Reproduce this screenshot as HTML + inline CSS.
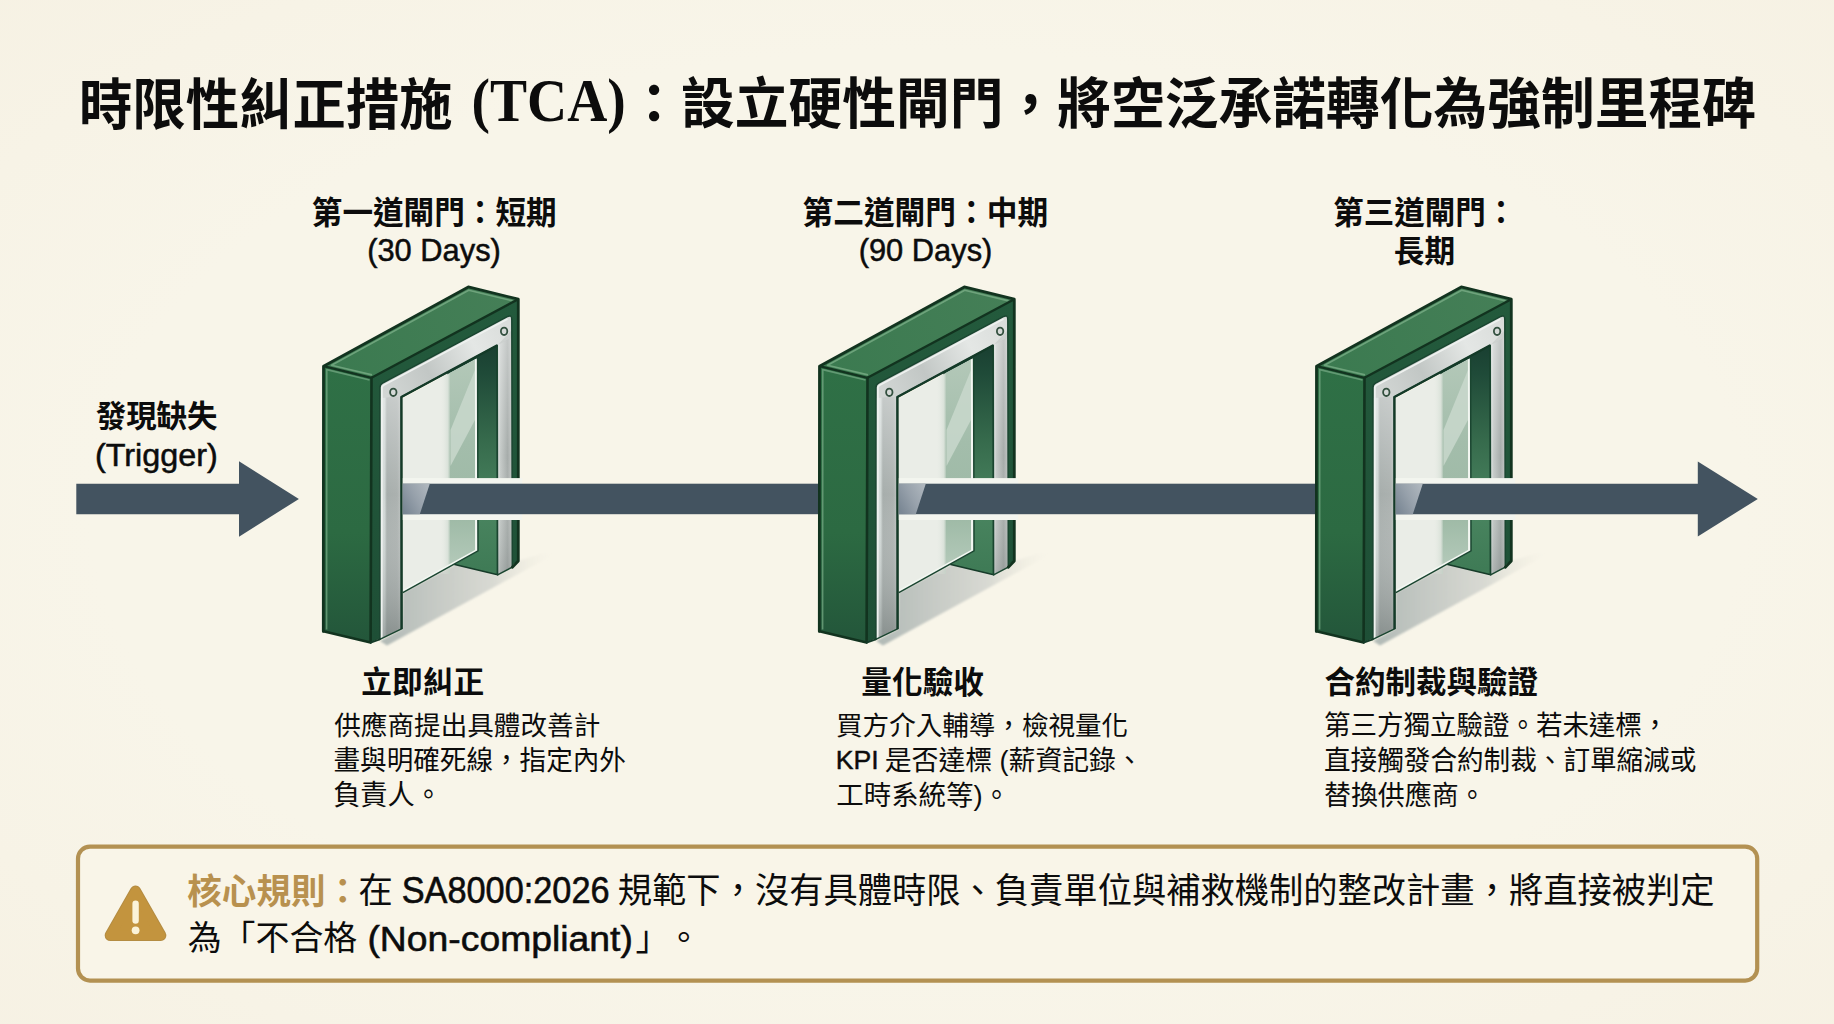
<!DOCTYPE html>
<html lang="zh-Hant"><head><meta charset="utf-8"><title>時限性糾正措施 (TCA)</title>
<style>
html,body{margin:0;padding:0;background:#F8F4E7;}
body{width:1834px;height:1024px;overflow:hidden;position:relative;font-family:"Liberation Sans","Noto Sans CJK TC",sans-serif;}
svg{position:absolute;left:0;top:0;display:block}
text{white-space:pre;text-spacing-trim:space-all}
</style></head><body>
<svg width="1834" height="1024" viewBox="0 0 1834 1024">
<defs>
<filter id="blur1" x="-10%" y="-10%" width="120%" height="120%"><feGaussianBlur stdDeviation="1.3"/></filter>
<linearGradient id="gshadow" gradientUnits="userSpaceOnUse" x1="386" y1="0" x2="552" y2="0"><stop offset="0" stop-color="#B3BBB7"/><stop offset="0.3" stop-color="#C6CAC5"/><stop offset="0.65" stop-color="#D9DAD3"/><stop offset="1" stop-color="#F0EDE0" stop-opacity="0"/></linearGradient>
<filter id="blur3" x="-20%" y="-20%" width="140%" height="140%"><feGaussianBlur stdDeviation="3.2"/></filter>
<radialGradient id="gbg" cx="50%" cy="50%" r="75%"><stop offset="0.6" stop-color="#F8F5E9"/><stop offset="1" stop-color="#F6F1E3"/></radialGradient>
<linearGradient id="gfront" gradientUnits="userSpaceOnUse" x1="0" y1="366" x2="0" y2="643"><stop offset="0" stop-color="#2F7046"/><stop offset="0.6" stop-color="#2C6A42"/><stop offset="1" stop-color="#23563A"/></linearGradient>
<linearGradient id="gtop" gradientUnits="userSpaceOnUse" x1="330" y1="365" x2="515" y2="298"><stop offset="0" stop-color="#3B7A50"/><stop offset="1" stop-color="#457F57"/></linearGradient>
<linearGradient id="gside" gradientUnits="userSpaceOnUse" x1="0" y1="300" x2="0" y2="643"><stop offset="0" stop-color="#235A3C"/><stop offset="1" stop-color="#1E4F36"/></linearGradient>
<linearGradient id="ginner" gradientUnits="userSpaceOnUse" x1="0" y1="345" x2="0" y2="575"><stop offset="0" stop-color="#193F31"/><stop offset="0.12" stop-color="#1F4A38"/><stop offset="0.4" stop-color="#35694B"/><stop offset="0.7" stop-color="#4A8560"/><stop offset="1" stop-color="#3E7A55"/></linearGradient>
<linearGradient id="gglass" gradientUnits="userSpaceOnUse" x1="0" y1="360" x2="0" y2="567"><stop offset="0" stop-color="#B3C8B8"/><stop offset="0.4" stop-color="#A3BDAB"/><stop offset="0.75" stop-color="#9DB9A5"/><stop offset="1" stop-color="#B4CABA"/></linearGradient>
<linearGradient id="gsoft" gradientUnits="userSpaceOnUse" x1="440" y1="0" x2="450" y2="0"><stop offset="0" stop-color="#EAEDE7" stop-opacity="0"/><stop offset="1" stop-color="#C4D3C7" stop-opacity="0.7"/></linearGradient>
<linearGradient id="gstop" gradientUnits="userSpaceOnUse" x1="380" y1="392" x2="512" y2="322"><stop offset="0" stop-color="#D4D8D6"/><stop offset="0.35" stop-color="#C2C7C5"/><stop offset="0.7" stop-color="#E4E7E5"/><stop offset="1" stop-color="#D9DCDA"/></linearGradient>
<linearGradient id="gsleft" gradientUnits="userSpaceOnUse" x1="380" y1="0" x2="401.5" y2="0"><stop offset="0" stop-color="#DDE2E0"/><stop offset="0.22" stop-color="#CFD6D4"/><stop offset="0.32" stop-color="#A7AEAC"/><stop offset="0.8" stop-color="#ABB1AF"/><stop offset="1" stop-color="#BEC3C1"/></linearGradient>
<linearGradient id="gsleftv" gradientUnits="userSpaceOnUse" x1="0" y1="398" x2="0" y2="639"><stop offset="0" stop-color="#FFFFFF" stop-opacity="0.35"/><stop offset="0.4" stop-color="#FFFFFF" stop-opacity="0"/><stop offset="1" stop-color="#5F6866" stop-opacity="0.45"/></linearGradient>
<linearGradient id="gsright" gradientUnits="userSpaceOnUse" x1="497.5" y1="0" x2="512" y2="0"><stop offset="0" stop-color="#E9ECEA"/><stop offset="0.2" stop-color="#C5CAC8"/><stop offset="0.7" stop-color="#A6ACAA"/><stop offset="1" stop-color="#C2C6C4"/></linearGradient>
<linearGradient id="gsrightv" gradientUnits="userSpaceOnUse" x1="0" y1="338" x2="0" y2="575"><stop offset="0" stop-color="#FFFFFF" stop-opacity="0.35"/><stop offset="0.5" stop-color="#FFFFFF" stop-opacity="0"/><stop offset="1" stop-color="#6F7775" stop-opacity="0.3"/></linearGradient>
<linearGradient id="gfade" gradientUnits="objectBoundingBox" x1="0" y1="0.8" x2="1" y2="0.2"><stop offset="0" stop-color="#7A8794"/><stop offset="0.5" stop-color="#97A1AB"/><stop offset="1" stop-color="#AEB6BD"/></linearGradient>
</defs>
<rect x="0" y="0" width="1834" height="1024" fill="url(#gbg)"/>

<polygon points="76.3,483.7 239.0,483.7 239.0,461.2 298.9,498.9 239.0,536.8 239.0,514.2 76.3,514.2" fill="#435360"/>
<g transform="translate(0,0)">
<polygon points="402.8,592.6 458.0,563.0 497.6,575.0 512.3,567.2 518.3,561.0 549.0,551.5 550.5,556.5 387.0,645.5 380.0,641.0 402.0,629.0" fill="url(#gshadow)" filter="url(#blur1)"/>
<polygon points="448.5,563.0 497.6,574.8 497.3,345.3 448.0,333.0" fill="url(#ginner)" stroke="#163B29" stroke-width="1.6" stroke-linejoin="round"/>
<polygon points="402.8,398.6 477.6,358.0 478.0,550.8 402.8,592.6" fill="#EAEDE7"/>
<polygon points="448.7,373.6 475.0,359.4 475.2,552.3 448.7,567.0" fill="url(#gglass)"/>
<polygon points="475.0,370.0 475.0,420.0 450.5,466.0 450.5,430.0" fill="#C9D8CD" opacity="0.85"/>
<rect x="440" y="374" width="10" height="200" fill="url(#gsoft)"/>
<polyline points="476.2,359.2 476.5,550.6 403.6,591.0" fill="none" stroke="#F3F7F2" stroke-width="2.6"/>
<polyline points="477.6,358.0 478.0,550.8 402.8,592.6" fill="none" stroke="#1A4530" stroke-width="1.5" stroke-linejoin="round"/>
<polygon points="371.5,377.8 518.3,299.2 518.3,561.0 497.6,574.8 497.3,345.3 401.4,397.0 401.6,628.9 370.6,642.6" fill="url(#gside)"/>
<clipPath id="cs0"><path d="M379.8,639.4 L380.0,387.6 Q380.0,384.6 382.6,383.2 L507.4,316.7 Q511.8,314.4 511.8,319.4 L512.3,567.2 L497.6,574.8 L497.3,345.3 L401.4,397.0 L401.6,628.9 Z"/></clipPath>
<path d="M379.8,639.4 L380.0,387.6 Q380.0,384.6 382.6,383.2 L507.4,316.7 Q511.8,314.4 511.8,319.4 L512.3,567.2 L497.6,574.8 L497.3,345.3 L401.4,397.0 L401.6,628.9 Z" fill="#CDD1CF"/>
<g clip-path="url(#cs0)">
<polygon points="380.0,384.6 511.8,314.4 511.9,330.0 497.3,345.3 401.4,397.0 380.1,400.0" fill="url(#gstop)"/>
<polygon points="380.0,398.0 401.4,397.0 401.6,628.9 379.8,639.4" fill="url(#gsleft)"/>
<polygon points="380.0,398.0 401.4,397.0 401.6,628.9 379.8,639.4" fill="url(#gsleftv)"/>
<polygon points="497.3,345.3 511.9,337.6 512.3,567.2 497.6,574.8" fill="url(#gsright)"/>
<polygon points="497.3,345.3 511.9,337.6 512.3,567.2 497.6,574.8" fill="url(#gsrightv)"/>
<polyline points="381.7,638.0 381.9,387.0 383.5,385.2 507.5,319.0" fill="none" stroke="#EEF1EF" stroke-width="1.8" stroke-linejoin="round"/>
</g>
<path d="M379.8,639.4 L380.0,387.6 Q380.0,384.6 382.6,383.2 L507.4,316.7 Q511.8,314.4 511.8,319.4 L512.3,567.2 L497.6,574.8 L497.3,345.3 L401.4,397.0 L401.6,628.9 Z" fill="none" stroke="#1A4530" stroke-width="1.5" stroke-linejoin="round"/>
<polyline points="401.6,628.9 401.4,397.0 497.3,345.3" fill="none" stroke="#143A28" stroke-width="2.4" stroke-linejoin="round"/>
<ellipse cx="393.3" cy="392.3" rx="3.2" ry="3.7" fill="#D5D9D7" stroke="#33503F" stroke-width="1.8"/>
<ellipse cx="504.1" cy="331.3" rx="3.2" ry="3.7" fill="#D5D9D7" stroke="#33503F" stroke-width="1.8"/>
<polygon points="323.5,366.2 371.5,377.8 370.6,642.6 323.3,631.3" fill="url(#gfront)"/>
<polyline points="326.6,629.6 326.8,369.6 369.5,380.0" fill="none" stroke="#6FA47E" stroke-width="1.6" opacity="0.8" stroke-linejoin="round"/>
<polygon points="323.5,366.2 468.3,286.9 518.3,299.2 371.5,377.8" fill="url(#gtop)"/>
<polyline points="372.0,374.9 331.5,365.2 468.7,290.2 512.5,300.9" fill="none" stroke="#7DB08A" stroke-width="1.6" opacity="0.75" stroke-linejoin="round"/>
<polygon points="323.5,366.2 468.3,286.9 518.3,299.2 518.3,561.0 512.4,566.0" fill="none" stroke="none"/>
<polyline points="323.3,631.3 323.5,366.2 468.3,286.9 518.3,299.2 518.3,561.0 512.3,567.2" fill="none" stroke="#12331F" stroke-width="2.8" stroke-linejoin="round" stroke-linecap="round"/>
<polyline points="323.5,366.2 371.5,377.8 518.3,299.2" fill="none" stroke="#12331F" stroke-width="2.4" stroke-linejoin="round"/>
<polyline points="371.5,377.8 370.6,642.6 323.3,631.3" fill="none" stroke="#12331F" stroke-width="2.6" stroke-linejoin="round" stroke-linecap="round"/>
<polyline points="370.6,642.6 379.8,639.4" fill="none" stroke="#143A28" stroke-width="1.8" stroke-linecap="round"/>
<rect x="402.8" y="478.09999999999997" width="119.5" height="41.900000000000055" fill="#F3F5EF"/>
</g>
<rect x="402.8" y="483.7" width="418.49999999999994" height="30.500000000000057" fill="#435360"/>
<polygon points="402.8,483.7 429.8,483.7 419.8,514.2 402.8,514.2" fill="url(#gfade)" transform="translate(0,0)"/>
<g transform="translate(496,0)">
<polygon points="402.8,592.6 458.0,563.0 497.6,575.0 512.3,567.2 518.3,561.0 549.0,551.5 550.5,556.5 387.0,645.5 380.0,641.0 402.0,629.0" fill="url(#gshadow)" filter="url(#blur1)"/>
<polygon points="448.5,563.0 497.6,574.8 497.3,345.3 448.0,333.0" fill="url(#ginner)" stroke="#163B29" stroke-width="1.6" stroke-linejoin="round"/>
<polygon points="402.8,398.6 477.6,358.0 478.0,550.8 402.8,592.6" fill="#EAEDE7"/>
<polygon points="448.7,373.6 475.0,359.4 475.2,552.3 448.7,567.0" fill="url(#gglass)"/>
<polygon points="475.0,370.0 475.0,420.0 450.5,466.0 450.5,430.0" fill="#C9D8CD" opacity="0.85"/>
<rect x="440" y="374" width="10" height="200" fill="url(#gsoft)"/>
<polyline points="476.2,359.2 476.5,550.6 403.6,591.0" fill="none" stroke="#F3F7F2" stroke-width="2.6"/>
<polyline points="477.6,358.0 478.0,550.8 402.8,592.6" fill="none" stroke="#1A4530" stroke-width="1.5" stroke-linejoin="round"/>
<polygon points="371.5,377.8 518.3,299.2 518.3,561.0 497.6,574.8 497.3,345.3 401.4,397.0 401.6,628.9 370.6,642.6" fill="url(#gside)"/>
<clipPath id="cs1"><path d="M379.8,639.4 L380.0,387.6 Q380.0,384.6 382.6,383.2 L507.4,316.7 Q511.8,314.4 511.8,319.4 L512.3,567.2 L497.6,574.8 L497.3,345.3 L401.4,397.0 L401.6,628.9 Z"/></clipPath>
<path d="M379.8,639.4 L380.0,387.6 Q380.0,384.6 382.6,383.2 L507.4,316.7 Q511.8,314.4 511.8,319.4 L512.3,567.2 L497.6,574.8 L497.3,345.3 L401.4,397.0 L401.6,628.9 Z" fill="#CDD1CF"/>
<g clip-path="url(#cs1)">
<polygon points="380.0,384.6 511.8,314.4 511.9,330.0 497.3,345.3 401.4,397.0 380.1,400.0" fill="url(#gstop)"/>
<polygon points="380.0,398.0 401.4,397.0 401.6,628.9 379.8,639.4" fill="url(#gsleft)"/>
<polygon points="380.0,398.0 401.4,397.0 401.6,628.9 379.8,639.4" fill="url(#gsleftv)"/>
<polygon points="497.3,345.3 511.9,337.6 512.3,567.2 497.6,574.8" fill="url(#gsright)"/>
<polygon points="497.3,345.3 511.9,337.6 512.3,567.2 497.6,574.8" fill="url(#gsrightv)"/>
<polyline points="381.7,638.0 381.9,387.0 383.5,385.2 507.5,319.0" fill="none" stroke="#EEF1EF" stroke-width="1.8" stroke-linejoin="round"/>
</g>
<path d="M379.8,639.4 L380.0,387.6 Q380.0,384.6 382.6,383.2 L507.4,316.7 Q511.8,314.4 511.8,319.4 L512.3,567.2 L497.6,574.8 L497.3,345.3 L401.4,397.0 L401.6,628.9 Z" fill="none" stroke="#1A4530" stroke-width="1.5" stroke-linejoin="round"/>
<polyline points="401.6,628.9 401.4,397.0 497.3,345.3" fill="none" stroke="#143A28" stroke-width="2.4" stroke-linejoin="round"/>
<ellipse cx="393.3" cy="392.3" rx="3.2" ry="3.7" fill="#D5D9D7" stroke="#33503F" stroke-width="1.8"/>
<ellipse cx="504.1" cy="331.3" rx="3.2" ry="3.7" fill="#D5D9D7" stroke="#33503F" stroke-width="1.8"/>
<polygon points="323.5,366.2 371.5,377.8 370.6,642.6 323.3,631.3" fill="url(#gfront)"/>
<polyline points="326.6,629.6 326.8,369.6 369.5,380.0" fill="none" stroke="#6FA47E" stroke-width="1.6" opacity="0.8" stroke-linejoin="round"/>
<polygon points="323.5,366.2 468.3,286.9 518.3,299.2 371.5,377.8" fill="url(#gtop)"/>
<polyline points="372.0,374.9 331.5,365.2 468.7,290.2 512.5,300.9" fill="none" stroke="#7DB08A" stroke-width="1.6" opacity="0.75" stroke-linejoin="round"/>
<polygon points="323.5,366.2 468.3,286.9 518.3,299.2 518.3,561.0 512.4,566.0" fill="none" stroke="none"/>
<polyline points="323.3,631.3 323.5,366.2 468.3,286.9 518.3,299.2 518.3,561.0 512.3,567.2" fill="none" stroke="#12331F" stroke-width="2.8" stroke-linejoin="round" stroke-linecap="round"/>
<polyline points="323.5,366.2 371.5,377.8 518.3,299.2" fill="none" stroke="#12331F" stroke-width="2.4" stroke-linejoin="round"/>
<polyline points="371.5,377.8 370.6,642.6 323.3,631.3" fill="none" stroke="#12331F" stroke-width="2.6" stroke-linejoin="round" stroke-linecap="round"/>
<polyline points="370.6,642.6 379.8,639.4" fill="none" stroke="#143A28" stroke-width="1.8" stroke-linecap="round"/>
<rect x="402.8" y="478.09999999999997" width="119.5" height="41.900000000000055" fill="#F3F5EF"/>
</g>
<rect x="898.8" y="483.7" width="419.5" height="30.500000000000057" fill="#435360"/>
<polygon points="898.8,483.7 925.8,483.7 915.8,514.2 898.8,514.2" fill="url(#gfade)" transform="translate(0,0)"/>
<g transform="translate(993,0)">
<polygon points="402.8,592.6 458.0,563.0 497.6,575.0 512.3,567.2 518.3,561.0 549.0,551.5 550.5,556.5 387.0,645.5 380.0,641.0 402.0,629.0" fill="url(#gshadow)" filter="url(#blur1)"/>
<polygon points="448.5,563.0 497.6,574.8 497.3,345.3 448.0,333.0" fill="url(#ginner)" stroke="#163B29" stroke-width="1.6" stroke-linejoin="round"/>
<polygon points="402.8,398.6 477.6,358.0 478.0,550.8 402.8,592.6" fill="#EAEDE7"/>
<polygon points="448.7,373.6 475.0,359.4 475.2,552.3 448.7,567.0" fill="url(#gglass)"/>
<polygon points="475.0,370.0 475.0,420.0 450.5,466.0 450.5,430.0" fill="#C9D8CD" opacity="0.85"/>
<rect x="440" y="374" width="10" height="200" fill="url(#gsoft)"/>
<polyline points="476.2,359.2 476.5,550.6 403.6,591.0" fill="none" stroke="#F3F7F2" stroke-width="2.6"/>
<polyline points="477.6,358.0 478.0,550.8 402.8,592.6" fill="none" stroke="#1A4530" stroke-width="1.5" stroke-linejoin="round"/>
<polygon points="371.5,377.8 518.3,299.2 518.3,561.0 497.6,574.8 497.3,345.3 401.4,397.0 401.6,628.9 370.6,642.6" fill="url(#gside)"/>
<clipPath id="cs2"><path d="M379.8,639.4 L380.0,387.6 Q380.0,384.6 382.6,383.2 L507.4,316.7 Q511.8,314.4 511.8,319.4 L512.3,567.2 L497.6,574.8 L497.3,345.3 L401.4,397.0 L401.6,628.9 Z"/></clipPath>
<path d="M379.8,639.4 L380.0,387.6 Q380.0,384.6 382.6,383.2 L507.4,316.7 Q511.8,314.4 511.8,319.4 L512.3,567.2 L497.6,574.8 L497.3,345.3 L401.4,397.0 L401.6,628.9 Z" fill="#CDD1CF"/>
<g clip-path="url(#cs2)">
<polygon points="380.0,384.6 511.8,314.4 511.9,330.0 497.3,345.3 401.4,397.0 380.1,400.0" fill="url(#gstop)"/>
<polygon points="380.0,398.0 401.4,397.0 401.6,628.9 379.8,639.4" fill="url(#gsleft)"/>
<polygon points="380.0,398.0 401.4,397.0 401.6,628.9 379.8,639.4" fill="url(#gsleftv)"/>
<polygon points="497.3,345.3 511.9,337.6 512.3,567.2 497.6,574.8" fill="url(#gsright)"/>
<polygon points="497.3,345.3 511.9,337.6 512.3,567.2 497.6,574.8" fill="url(#gsrightv)"/>
<polyline points="381.7,638.0 381.9,387.0 383.5,385.2 507.5,319.0" fill="none" stroke="#EEF1EF" stroke-width="1.8" stroke-linejoin="round"/>
</g>
<path d="M379.8,639.4 L380.0,387.6 Q380.0,384.6 382.6,383.2 L507.4,316.7 Q511.8,314.4 511.8,319.4 L512.3,567.2 L497.6,574.8 L497.3,345.3 L401.4,397.0 L401.6,628.9 Z" fill="none" stroke="#1A4530" stroke-width="1.5" stroke-linejoin="round"/>
<polyline points="401.6,628.9 401.4,397.0 497.3,345.3" fill="none" stroke="#143A28" stroke-width="2.4" stroke-linejoin="round"/>
<ellipse cx="393.3" cy="392.3" rx="3.2" ry="3.7" fill="#D5D9D7" stroke="#33503F" stroke-width="1.8"/>
<ellipse cx="504.1" cy="331.3" rx="3.2" ry="3.7" fill="#D5D9D7" stroke="#33503F" stroke-width="1.8"/>
<polygon points="323.5,366.2 371.5,377.8 370.6,642.6 323.3,631.3" fill="url(#gfront)"/>
<polyline points="326.6,629.6 326.8,369.6 369.5,380.0" fill="none" stroke="#6FA47E" stroke-width="1.6" opacity="0.8" stroke-linejoin="round"/>
<polygon points="323.5,366.2 468.3,286.9 518.3,299.2 371.5,377.8" fill="url(#gtop)"/>
<polyline points="372.0,374.9 331.5,365.2 468.7,290.2 512.5,300.9" fill="none" stroke="#7DB08A" stroke-width="1.6" opacity="0.75" stroke-linejoin="round"/>
<polygon points="323.5,366.2 468.3,286.9 518.3,299.2 518.3,561.0 512.4,566.0" fill="none" stroke="none"/>
<polyline points="323.3,631.3 323.5,366.2 468.3,286.9 518.3,299.2 518.3,561.0 512.3,567.2" fill="none" stroke="#12331F" stroke-width="2.8" stroke-linejoin="round" stroke-linecap="round"/>
<polyline points="323.5,366.2 371.5,377.8 518.3,299.2" fill="none" stroke="#12331F" stroke-width="2.4" stroke-linejoin="round"/>
<polyline points="371.5,377.8 370.6,642.6 323.3,631.3" fill="none" stroke="#12331F" stroke-width="2.6" stroke-linejoin="round" stroke-linecap="round"/>
<polyline points="370.6,642.6 379.8,639.4" fill="none" stroke="#143A28" stroke-width="1.8" stroke-linecap="round"/>
<rect x="402.8" y="478.09999999999997" width="119.5" height="41.900000000000055" fill="#F3F5EF"/>
</g>
<polygon points="1395.8,483.7 1697.8,483.7 1697.8,461.4 1757.8,498.9 1697.8,536.6 1697.8,514.2 1395.8,514.2" fill="#435360"/>
<polygon points="1395.8,483.7 1422.8,483.7 1412.8,514.2 1395.8,514.2" fill="url(#gfade)" transform="translate(0,0)"/>
<rect x="78" y="846.6" width="1679.2" height="134" rx="12" ry="12" fill="#F9F5E8" stroke="#B39152" stroke-width="4.2"/>
<path d="M135.5 891.2 L160.6 935.4 L110.4 935.4 Z" fill="#C3943E" stroke="#B48C42" stroke-width="11.4" stroke-linejoin="round"/>
<path d="M135.5 891.2 L160.6 935.4 L110.4 935.4 Z" fill="#C3943E" stroke="#C3943E" stroke-width="9.4" stroke-linejoin="round"/>
<rect x="132.4" y="900.6" width="6.4" height="23.2" rx="3.2" fill="#FBF3D8"/>
<circle cx="135.6" cy="930.3" r="3.9" fill="#FBF3D8"/>
<text transform="matrix(0.5337 0 0 0.5505 79.00 123.75)" font-family="'Liberation Sans', 'Noto Sans CJK TC', sans-serif" font-weight="700" font-size="100" fill="#0C0C0C">時限性糾正措施</text>
<text transform="matrix(0.5558 0 0 0.6111 471.48 120.77)" font-family="'Liberation Serif', 'Noto Serif CJK SC', serif" font-weight="700" font-size="100" fill="#0C0C0C">(TCA)</text>
<text transform="matrix(0.5375 0 0 0.5448 627.36 123.25)" font-family="'Liberation Sans', 'Noto Sans CJK TC', sans-serif" font-weight="700" font-size="100" fill="#0C0C0C">：設立硬性閘門，將空泛承諾轉化為強制里程碑</text>
<text transform="matrix(0.3063 0 0 0.3211 311.77 224.11)" font-family="'Liberation Sans', 'Noto Sans CJK TC', sans-serif" font-weight="700" font-size="100" fill="#0C0C0C">第一道閘門：短期</text>
<text transform="matrix(0.3085 0 0 0.3096 367.16 260.98)" font-family="'Liberation Sans', 'Noto Sans CJK TC', sans-serif" font-weight="400" font-size="100" fill="#0C0C0C" stroke="#0C0C0C" stroke-width="1.6">(30 Days)</text>
<text transform="matrix(0.3072 0 0 0.3211 802.47 224.11)" font-family="'Liberation Sans', 'Noto Sans CJK TC', sans-serif" font-weight="700" font-size="100" fill="#0C0C0C">第二道閘門：中期</text>
<text transform="matrix(0.3085 0 0 0.3096 858.66 260.98)" font-family="'Liberation Sans', 'Noto Sans CJK TC', sans-serif" font-weight="400" font-size="100" fill="#0C0C0C" stroke="#0C0C0C" stroke-width="1.6">(90 Days)</text>
<text transform="matrix(0.3052 0 0 0.3211 1333.18 224.11)" font-family="'Liberation Sans', 'Noto Sans CJK TC', sans-serif" font-weight="700" font-size="100" fill="#0C0C0C">第三道閘門：</text>
<text transform="matrix(0.3069 0 0 0.3096 1393.87 262.10)" font-family="'Liberation Sans', 'Noto Sans CJK TC', sans-serif" font-weight="700" font-size="100" fill="#0C0C0C">長期</text>
<text transform="matrix(0.3046 0 0 0.3095 95.69 427.21)" font-family="'Liberation Sans', 'Noto Sans CJK TC', sans-serif" font-weight="700" font-size="100" fill="#0C0C0C">發現缺失</text>
<text transform="matrix(0.3238 0 0 0.3186 94.98 465.68)" font-family="'Liberation Sans', 'Noto Sans CJK TC', sans-serif" font-weight="400" font-size="100" fill="#0C0C0C" stroke="#0C0C0C" stroke-width="1.6">(Trigger)</text>
<text transform="matrix(0.3074 0 0 0.3084 361.37 693.22)" font-family="'Liberation Sans', 'Noto Sans CJK TC', sans-serif" font-weight="700" font-size="100" fill="#0C0C0C">立即糾正</text>
<text transform="matrix(0.2661 0 0 0.2632 334.27 734.73)" font-family="'Liberation Sans', 'Noto Sans CJK TC', sans-serif" font-weight="400" font-size="100" fill="#0C0C0C">供應商提出具體改善計</text>
<text transform="matrix(0.2660 0 0 0.2723 333.47 769.55)" font-family="'Liberation Sans', 'Noto Sans CJK TC', sans-serif" font-weight="400" font-size="100" fill="#0C0C0C">畫與明確死線，指定內外</text>
<text transform="matrix(0.2721 0 0 0.2785 333.17 804.69)" font-family="'Liberation Sans', 'Noto Sans CJK TC', sans-serif" font-weight="400" font-size="100" fill="#0C0C0C">負責人。</text>
<text transform="matrix(0.3066 0 0 0.3052 861.37 693.25)" font-family="'Liberation Sans', 'Noto Sans CJK TC', sans-serif" font-weight="700" font-size="100" fill="#0C0C0C">量化驗收</text>
<text transform="matrix(0.2656 0 0 0.2660 836.01 734.71)" font-family="'Liberation Sans', 'Noto Sans CJK TC', sans-serif" font-weight="400" font-size="100" fill="#0C0C0C">買方介入輔導，檢視量化</text>
<text transform="matrix(0.2664 0 0 0.2620 835.73 769.34)" font-family="'Liberation Sans', 'Noto Sans CJK TC', sans-serif" font-weight="400" font-size="100" fill="#0C0C0C" stroke="#0C0C0C" stroke-width="1.6">KPI</text>
<text transform="matrix(0.2687 0 0 0.2753 884.73 769.80)" font-family="'Liberation Sans', 'Noto Sans CJK TC', sans-serif" font-weight="400" font-size="100" fill="#0C0C0C">是否達標 (薪資記錄、</text>
<text transform="matrix(0.2747 0 0 0.2723 836.23 804.75)" font-family="'Liberation Sans', 'Noto Sans CJK TC', sans-serif" font-weight="400" font-size="100" fill="#0C0C0C">工時系統等)。</text>
<text transform="matrix(0.3052 0 0 0.3021 1324.38 693.28)" font-family="'Liberation Sans', 'Noto Sans CJK TC', sans-serif" font-weight="700" font-size="100" fill="#0C0C0C">合約制裁與驗證</text>
<text transform="matrix(0.2650 0 0 0.2742 1323.98 734.81)" font-family="'Liberation Sans', 'Noto Sans CJK TC', sans-serif" font-weight="400" font-size="100" fill="#0C0C0C">第三方獨立驗證。若未達標，</text>
<text transform="matrix(0.2661 0 0 0.2777 1323.97 769.50)" font-family="'Liberation Sans', 'Noto Sans CJK TC', sans-serif" font-weight="400" font-size="100" fill="#0C0C0C">直接觸發合約制裁、訂單縮減或</text>
<text transform="matrix(0.2698 0 0 0.2777 1323.95 804.68)" font-family="'Liberation Sans', 'Noto Sans CJK TC', sans-serif" font-weight="400" font-size="100" fill="#0C0C0C">替換供應商。</text>
<text transform="matrix(0.3455 0 0 0.3495 187.31 903.55)" font-family="'Liberation Sans', 'Noto Sans CJK TC', sans-serif" font-weight="700" font-size="100" fill="#B8914F">核心規則：</text>
<text transform="matrix(0.3428 0 0 0.3489 358.53 903.36)" font-family="'Liberation Sans', 'Noto Sans CJK TC', sans-serif" font-weight="400" font-size="100" fill="#0C0C0C">在</text>
<text transform="matrix(0.3430 0 0 0.3644 401.73 903.17)" font-family="'Liberation Sans', 'Noto Sans CJK TC', sans-serif" font-weight="400" font-size="100" fill="#0C0C0C" stroke="#0C0C0C" stroke-width="1.6">SA8000:2026</text>
<text transform="matrix(0.3428 0 0 0.3489 617.83 903.36)" font-family="'Liberation Sans', 'Noto Sans CJK TC', sans-serif" font-weight="400" font-size="100" fill="#0C0C0C">規範下，沒有具體時限、負責單位與補救機制的整改計畫，將直接被判定</text>
<text transform="matrix(0.3393 0 0 0.3426 187.68 950.12)" font-family="'Liberation Sans', 'Noto Sans CJK TC', sans-serif" font-weight="400" font-size="100" fill="#0C0C0C">為「不合格</text>
<text transform="matrix(0.3732 0 0 0.3507 367.43 950.85)" font-family="'Liberation Sans', 'Noto Sans CJK TC', sans-serif" font-weight="400" font-size="100" fill="#0C0C0C" stroke="#0C0C0C" stroke-width="1.6">(Non-compliant)</text>
<text transform="matrix(0.3393 0 0 0.3426 635.58 950.12)" font-family="'Liberation Sans', 'Noto Sans CJK TC', sans-serif" font-weight="400" font-size="100" fill="#0C0C0C">」</text>
<text transform="matrix(0.3393 0 0 0.3426 666.73 950.12)" font-family="'Liberation Sans', 'Noto Sans CJK TC', sans-serif" font-weight="400" font-size="100" fill="#0C0C0C">。</text>
</svg>
</body></html>
